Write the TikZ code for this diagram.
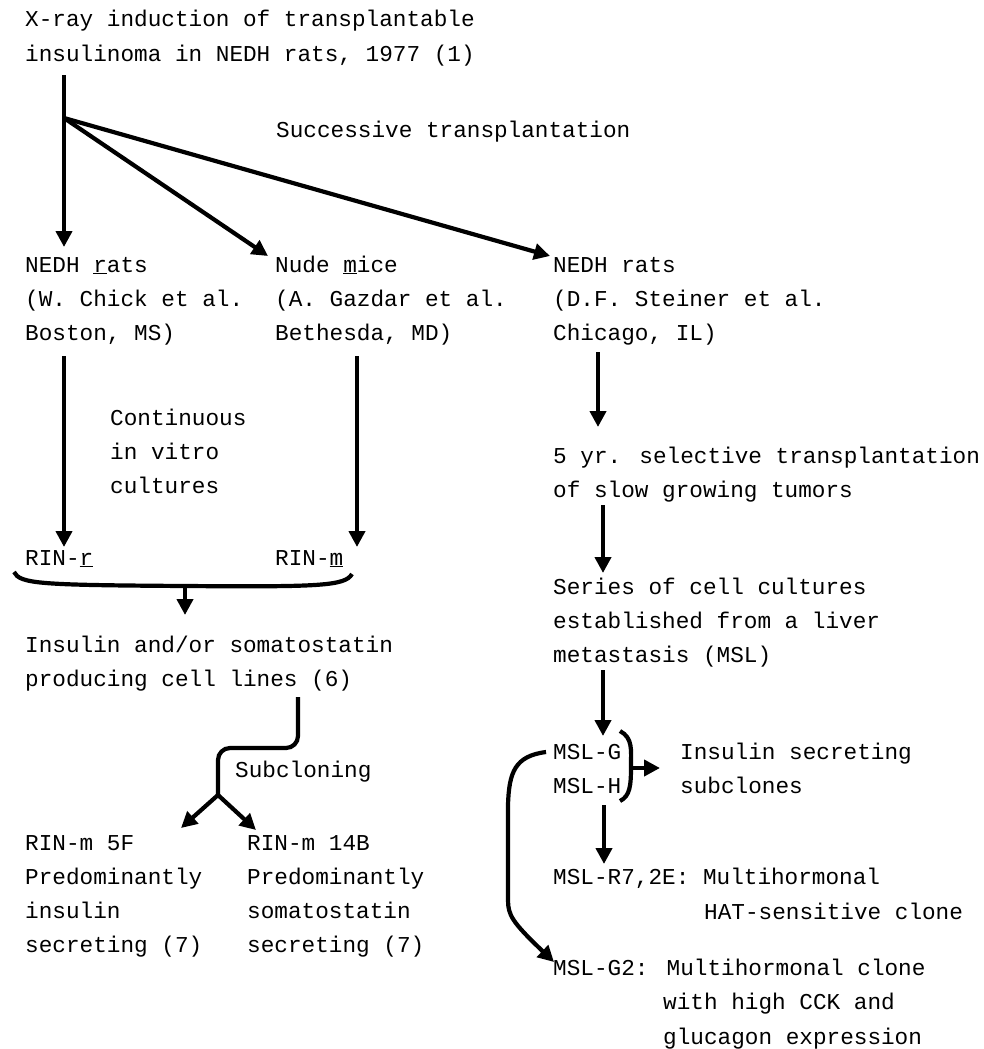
\documentclass[tikz,border=0pt]{standalone}
\usepackage{fontspec}
\newfontfamily\tw{Liberation Mono}
\usetikzlibrary{arrows.meta}
\begin{document}
\begin{tikzpicture}[x=1pt,y=-1pt,
  txt/.style={anchor=base west,inner sep=0pt,align=left,font=\tw\fontsize{22.7}{34.3}\selectfont},
  conn/.style={line width=4.2pt,-{Triangle[length=16pt,width=16pt]}},
  plain/.style={line width=4.2pt},
]
\useasboundingbox (0,0) rectangle (984,1049);
% base west of a multi-line node = baseline of its last line
\node[txt] (top) at (25,61.3) {X-ray induction of transplantable\\insulinoma in NEDH rats, 1977 (1)};
\node[txt] (succ) at (276,137) {Successive transplantation};
\node[txt] (rats) at (25,340.6) {NEDH \underline{r}ats\\(W. Chick et al.\\Boston, MS)};
\node[txt] (mice) at (275,340.6) {Nude \underline{m}ice\\(A. Gazdar et al.\\Bethesda, MD)};
\node[txt] (stein) at (553,340.6) {NEDH rats\\(D.F. Steiner et al.\\Chicago, IL)};
\node[txt] (cont) at (110,493.6) {Continuous\\in vitro\\cultures};
\node[txt] (rinr) at (25,565) {RIN-\underline{r}};
\node[txt] (rinm) at (275,565) {RIN-\underline{m}};
\node[txt] (ins) at (25,686.3) {Insulin and/or somatostatin\\producing cell lines (6)};
\node[txt] (subc) at (235,777) {Subcloning};
\node[txt] (r5f) at (25,952.9) {RIN-m 5F\\Predominantly\\insulin\\secreting (7)};
\node[txt] (r14b) at (247,952.9) {RIN-m 14B\\Predominantly\\somatostatin\\secreting (7)};
\node[txt] (yr5) at (553,497.3) {5 yr. selective transplantation\\of slow growing tumors};
\node[txt] (series) at (553,662.6) {Series of cell cultures\\established from a liver\\metastasis (MSL)};
\node[txt] (mslg) at (553,793.3) {MSL-G\\MSL-H};
\node[txt] (insec) at (680,793.3) {Insulin secreting\\subclones};
\node[txt] (r7) at (553,919) {MSL-R7,2E: Multihormonal\\\hspace*{151pt}HAT-sensitive clone};
\node[txt] (g2) at (553,1044) {MSL-G2: Multihormonal clone\\\hspace*{110pt}with high CCK and\\\hspace*{110pt}glucagon expression};

% top branching
\coordinate (st) at (64,75);
\coordinate (br) at (64,118);
\coordinate (e1) at (64,247);
\coordinate (e2) at (268,256);
\coordinate (e3) at (550,256);
\draw[conn] (st) -- (e1);
\draw[conn] (br) -- (e2);
\draw[conn] (br) -- (e3);

% long vertical arrows
\coordinate (l1) at (64,356);
\coordinate (l2) at (64,547);
\coordinate (m1) at (357,356);
\coordinate (m2) at (357,547);
\draw[conn] (l1) -- (l2);
\draw[conn] (m1) -- (m2);

% brace
\coordinate (bl) at (14,572);
\coordinate (bm) at (185,586);
\coordinate (brr) at (352,574);
\coordinate (barr) at (185,615);
\draw[plain] (bl) .. controls (20,584) and (40,585) .. (bm) .. controls (320,587) and (345,586) .. (brr);
\draw[conn] (bm) -- (barr);

% subcloning
\coordinate (s0) at (298,697);
\coordinate (s1) at (218,795);
\coordinate (s2) at (181,828);
\coordinate (s3) at (256,830);
\draw[plain,rounded corners=12pt] (s0) -- (298,748) -- (218,748) -- (s1);
\draw[conn] (s1) -- (s2);
\draw[conn] (s1) -- (s3);

% right column arrows
\coordinate (a1) at (598,352);
\coordinate (a2) at (598,427);
\coordinate (b1) at (603,505);
\coordinate (b2) at (603,573);
\coordinate (c1) at (603,670);
\coordinate (c2) at (603,736);
\coordinate (d1) at (604,805);
\coordinate (d2) at (604,864);
\draw[conn] (a1) -- (a2);
\draw[conn] (b1) -- (b2);
\draw[conn] (c1) -- (c2);
\draw[conn] (d1) -- (d2);

% bracket MSL-G/H
\coordinate (k1) at (620,731);
\coordinate (k2) at (620,801);
\coordinate (km) at (631,768);
\coordinate (kt) at (660,768);
\draw[plain] (k1) .. controls (633,738) and (631,750) .. (631,766) .. controls (631,786) and (630,796) .. (k2);
\draw[conn] (km) -- (kt);

% MSL-G to MSL-G2
\coordinate (g0) at (546,752);
\coordinate (g1) at (554,962);
\draw[conn] (g0) .. controls (515,756) and (509,772) .. (508,805) -- (508,900) .. controls (508,915) and (512,922) .. (g1);
\end{tikzpicture}
\end{document}
